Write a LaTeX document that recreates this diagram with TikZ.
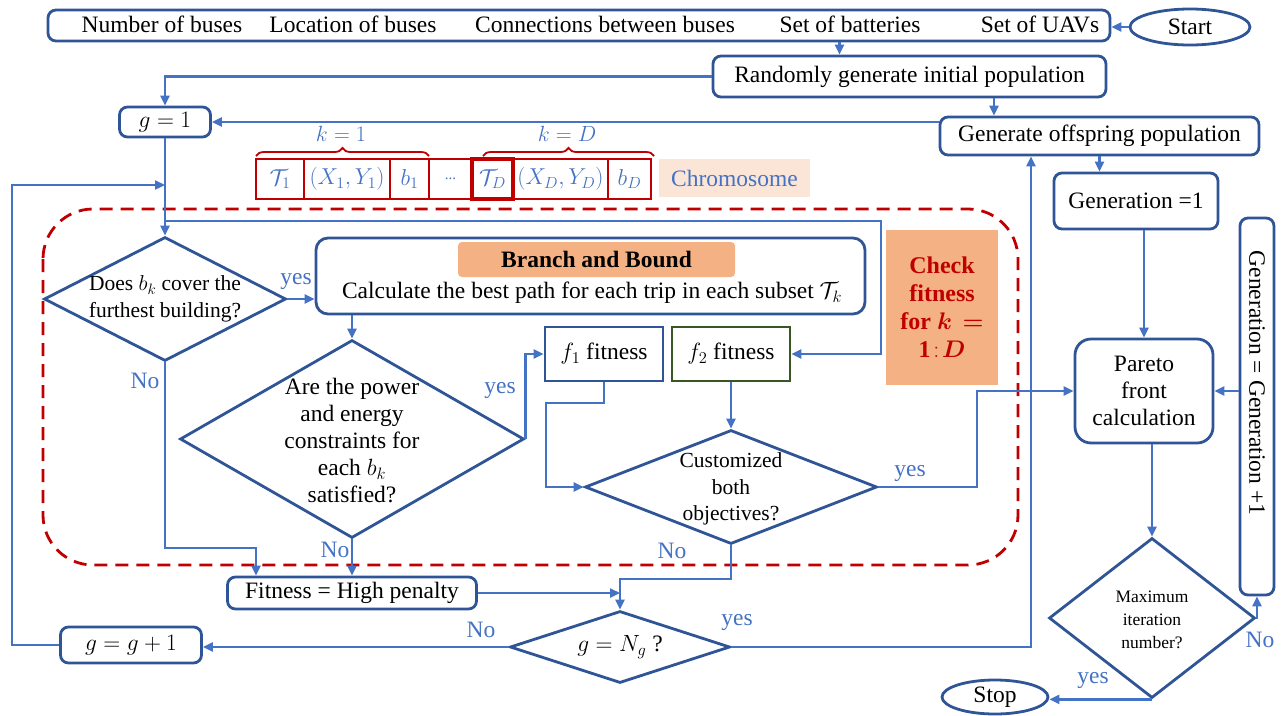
\RequirePackage{fix-cm}
\documentclass[tikz,border=0pt]{standalone}
\usepackage{amsmath}
\usepackage{fontspec}
\setmainfont{Liberation Serif}
\usetikzlibrary{shapes.geometric,arrows.meta,decorations.pathreplacing,calc}
\definecolor{dblue}{HTML}{2F5597}
\definecolor{lblue}{HTML}{4472C4}
\definecolor{dred}{HTML}{C00000}
\definecolor{dgreen}{HTML}{385723}
\definecolor{orng}{HTML}{F4B183}
\definecolor{peach}{HTML}{FBE5D6}
\newcommand{\fsA}{\fontsize{23.5}{27}\selectfont}
\newcommand{\fsB}{\fontsize{21.5}{26.5}\selectfont}
\newcommand{\fsC}{\fontsize{17.5}{23}\selectfont}
\begin{document}
\begin{tikzpicture}[x=1pt,y=-1pt,
  box/.style={draw=dblue, line width=2.8pt, rounded corners=8pt, fill=white, inner sep=0pt, font=\fsA, align=center},
  sqbox/.style={draw=dblue, line width=2.8pt, fill=white, inner sep=0pt, font=\fsA, align=center},
  dia/.style={draw=dblue, line width=2.8pt, diamond, inner sep=0pt, fill=white},
  ell/.style={draw=dblue, line width=2.8pt, ellipse, inner sep=0pt, font=\fsA},
  txt/.style={inner sep=0pt, font=\fsA, align=center},
  lab/.style={inner sep=0pt, font=\fsA, text=lblue},
  cell/.style={draw=dred, line width=2.8pt, inner sep=0pt, minimum height=40pt, font=\fontsize{23}{27}\selectfont, text=lblue},
  arr/.style={draw=lblue, line width=2.3pt, -{Triangle[length=10pt,width=9pt]}},
  ln/.style={draw=lblue, line width=2.3pt}
]
\useasboundingbox (0,0) rectangle (1285,715);

% top input box
\node[box, minimum width=1062pt, minimum height=31pt] (top) at (579,25.5) {};
\node[txt] (t1) at (162,24) {Number of buses};
\node[txt] (t2) at (353,24) {Location of buses};
\node[txt] (t3) at (605,24) {Connections between buses};
\node[txt] (t4) at (850,24) {Set of batteries};
\node[txt] (t5) at (1040,24) {Set of UAVs};
\node[ell, minimum width=120pt, minimum height=36pt] (start) at (1190,27) {Start};

\node[box, minimum width=393pt, minimum height=41pt] (rand) at (909.5,76.5) {Randomly generate initial population};
\node[box, minimum width=91pt, minimum height=30pt] (g1) at (165,122) {$g=1$};
\node[box, minimum width=319pt, minimum height=38pt] (offs) at (1099.5,136) {Generate offspring population};
\node[box, minimum width=164pt, minimum height=56pt] (gen) at (1136,201) {Generation =1};

% chromosome
\node[cell, minimum width=48pt] (c1) at (280,179) {$\mathcal{T}_1$};
\node[cell, minimum width=86pt] (c2) at (347,179) {$(X_1,Y_1)$};
\node[cell, minimum width=39pt] (c3) at (409.5,179) {$b_1$};
\node[cell, minimum width=43pt] (c4) at (450.5,179) {\fontsize{15}{16}\selectfont ...};
\node[cell, minimum width=41pt, line width=3.4pt] (c5) at (492.5,179) {$\mathcal{T}_D$};
\node[cell, minimum width=95pt] (c6) at (560.5,179) {$(X_D,Y_D)$};
\node[cell, minimum width=43pt] (c7) at (629.5,179) {$b_D$};
\draw[dred, line width=1.8pt, decorate, decoration={brace, amplitude=8pt}] (256,156) -- (429,156);
\draw[dred, line width=1.8pt, decorate, decoration={brace, amplitude=8pt}] (483,156) -- (654,156);
\node[lab, font=\fontsize{22}{26}\selectfont] (k1) at (341,134) {$k=1$};
\node[lab, font=\fontsize{22}{26}\selectfont] (kD) at (567,134) {$k=D$};
\node[fill=peach, minimum width=151pt, minimum height=38pt, inner sep=0pt, text=lblue, font=\fsA] (chrom) at (734.5,178) {Chromosome};

% red dashed region
\draw[dred, line width=2.8pt, dash pattern=on 13pt off 8pt, rounded corners=50pt] (43,209) rectangle (1018,565);

% decision 1
\node[dia, minimum width=242pt, minimum height=124pt] (d1) at (165,299) {};
\node[txt, font=\fsB] (d1t) at (165,299) {Does $b_k$ cover the\\furthest building?};

% branch and bound
\node[box, rounded corners=12pt, minimum width=549pt, minimum height=76pt] (bb) at (590.5,276) {};
\node[fill=orng, rounded corners=4pt, minimum width=277pt, minimum height=35pt, inner sep=0pt, font=\fsA\bfseries] (bbl) at (596.5,259.5) {Branch and Bound};
\node[txt] (bbt) at (592,293) {Calculate the best path for each trip in each subset $\mathcal{T}_k$};

% decision 2
\node[dia, minimum width=344pt, minimum height=198pt] (d2) at (352,439) {};
\node[txt] (d2t) at (352,441) {Are the power\\and energy\\constraints for\\each $b_k$\\satisfied?};

\node[sqbox, minimum width=118pt, minimum height=54pt] (f1) at (604,354) {$f_1$ fitness};
\node[sqbox, draw=dgreen, minimum width=118pt, minimum height=54pt] (f2) at (731,354) {$f_2$ fitness};

% decision 3
\node[dia, minimum width=292pt, minimum height=114pt] (d3) at (731,487) {};
\node[txt, font=\fsB] (d3t) at (731,489) {Customized\\both\\objectives?};

% check fitness
\node[fill=orng, minimum width=112pt, minimum height=155pt, inner sep=0pt, text=dred, align=center, font=\fontsize{24}{28}\selectfont\bfseries] (chk) at (942,307.5) {Check\\fitness\\for $\boldsymbol{k}\,\boldsymbol{=}$\\$\mathbf{1}\!:\!\boldsymbol{D}$};

% Pareto
\node[box, rounded corners=16pt, minimum width=138pt, minimum height=104pt] (par) at (1144,391) {Pareto\\front\\calculation};
\node[box, rounded corners=8pt, minimum width=34pt, minimum height=377pt] (gp) at (1257,406.5) {};
\node[txt, rotate=-90] (gpt) at (1257,383) {Generation = Generation +1};

% decision 4
\node[dia, minimum width=206pt, minimum height=160pt] (d4) at (1152,618) {};
\node[txt, font=\fsC] (d4t) at (1152,620) {Maximum\\iteration\\number?};
\node[ell, minimum width=106pt, minimum height=34pt] (stop) at (995,697) {Stop};

% penalty, g=Ng, g=g+1
\node[box, minimum width=249pt, minimum height=32pt] (fit) at (352,593) {Fitness = High penalty};
\node[dia, minimum width=220pt, minimum height=72pt] (gng) at (620,647) {};
\node[txt] (gngt) at (620,647) {$g=N_g$ ?};
\node[box, minimum width=141pt, minimum height=36pt] (gp1) at (131,645) {$g=g+1$};

% helper coordinates
\coordinate (br) at (165,221);
\coordinate (cf) at (881,221);
\coordinate (lp) at (12,185);
\coordinate (lpe) at (165,185);
\coordinate (n1) at (256,548);
\coordinate (m1) at (546,403);
\coordinate (m2) at (977,487);
\coordinate (m3) at (620,579);
\coordinate (m4) at (1031,647);

% connectors
\draw[arr] (start.west) -- (start.west -| top.east);
\draw[arr] ([xshift=-70pt]rand.north |- top.south) -- ([xshift=-70pt]rand.north);
\draw[arr] (rand.west) -| (g1.north);
\draw[arr] ([xshift=84.5pt]rand.south) -- ([xshift=84.5pt]rand.south |- offs.north);
\draw[arr] (offs.west |- g1.east) -- (g1.east);
\draw[arr] (offs.south) -- (offs.south |- gen.north);
\draw[arr] (gen.south -| par.north) -- (par.north);
\draw[arr] (g1.south) -- (d1.north);
\draw[arr] (br) -- (cf) |- (f2.east);
\draw[arr] (gp1.west) -| (lp) -- (lpe);
\draw[arr] (d1.east) -- (d1.east -| bb.west);
\draw[arr] (d2.north |- bb.south) -- (d2.north);
\draw[arr] (d1.south) |- (n1) -- (n1 |- fit.north);
\draw[arr] (d2.south) -- (fit.north);
\draw[arr] (d2.east) |- (f1.west);
\draw[arr] (f1.south) |- (m1) |- (d3.west);
\draw[arr] (f2.south) -- (d3.north);
\draw[arr] (d3.east) -- (m2) |- (par.west);
\draw[arr] (gp.west |- par.east) -- (par.east);
\draw[arr] (d4.north |- par.south) -- (d4.north);
\draw[arr] (d4.east) -| (gp.south);
\draw[arr] (d4.south) -- (d4.south -| stop.east);
\draw[arr] (d3.south) |- (m3) -- (gng.north);
\draw[arr] (fit.east) -- (fit.east -| gng.north);
\draw[arr] (gng.west) -- (gng.west -| gp1.east);
\draw[arr] (gng.east) -- (m4) -- (m4 |- offs.south);

% labels
\node[lab] (y1) at (296,281) {yes};
\node[lab] (no1) at (145,381) {No};
\node[lab] (y2) at (500,390) {yes};
\node[lab] (no2) at (335,550) {No};
\node[lab] (y3) at (910,473) {yes};
\node[lab] (no3) at (672,551) {No};
\node[lab] (no4) at (481,630) {No};
\node[lab] (y4) at (737,622) {yes};
\node[lab] (y5) at (1093,680) {yes};
\node[lab] (no5) at (1260,640) {No};
\end{tikzpicture}
\end{document}
